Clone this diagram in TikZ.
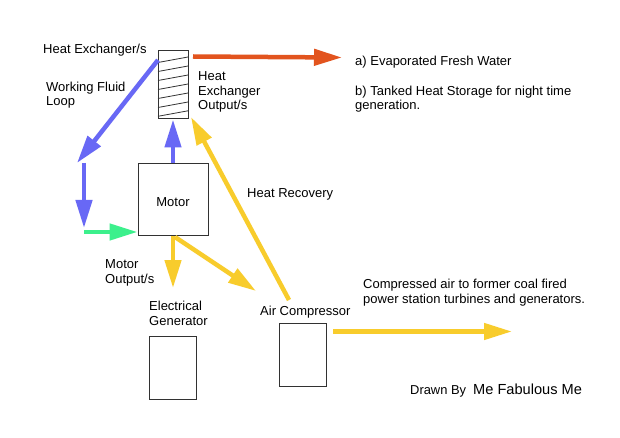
\documentclass[tikz,border=0pt]{standalone}
\usepackage{fontspec}
\setmainfont{Liberation Sans}
\usetikzlibrary{arrows.meta}
\definecolor{redc}{RGB}{226,84,30}
\definecolor{bluec}{RGB}{104,104,245}
\definecolor{greenc}{RGB}{60,240,140}
\definecolor{yelc}{RGB}{248,204,44}
\definecolor{boxc}{RGB}{50,50,50}
\tikzset{
  box/.style={draw=boxc, line width=1pt, inner sep=0pt},
  lbl/.style={inner sep=0pt, anchor=base west, align=left, font=\fontsize{13}{14.6}\selectfont},
  arr/.style={line width=4.5pt, -{Triangle[length=28pt,width=16pt]}},
}
\begin{document}
\begin{tikzpicture}[x=1pt,y=-1pt]
\useasboundingbox (0,0) rectangle (620,438);
\fill[white] (0,0) rectangle (620,438);
% boxes
\node[box, minimum width=30pt, minimum height=68pt] (he) at (173,85) {};
\node[box, minimum width=70pt, minimum height=71pt, font=\fontsize{13}{15}\selectfont] (motor) at (173,199.5) {\smash{\raisebox{-7pt}{Motor}}};
\node[box, minimum width=47pt, minimum height=63pt] (gen) at (173,367.5) {};
\node[box, minimum width=47pt, minimum height=63pt] (comp) at (303,354.5) {};
% hatch in heat exchanger
\foreach \y in {62.5,71.5,80.5,89.5,98.5,107.5,116.3}{
  \draw[boxc, line width=0.8pt] (158,\y) -- (188,\y-5.5);
}
% labels (multi-line: anchor on last line's baseline)
\node[lbl] (lhe) at (43,54) {Heat Exchanger/s};
\node[lbl] (lwf) at (46,106) {Working Fluid\\Loop};
\node[lbl] (lheo) at (198,110) {Heat\\Exchanger\\Output/s};
\node[lbl] (lhr) at (247,197) {Heat Recovery};
\node[lbl] (la) at (355,66) {a) Evaporated Fresh Water};
\node[lbl] (lb) at (355,110) {b) Tanked Heat Storage for night time\\generation.};
\node[lbl] (lmo) at (105,283) {Motor\\Output/s};
\node[lbl] (leg) at (149,325) {Electrical\\Generator};
\node[lbl] (lac) at (260,315) {Air Compressor};
\node[lbl] (lca) at (363,303) {Compressed air to former coal fired\\power station turbines and generators.};
\node[lbl, font=\fontsize{12.9}{15}\selectfont] (ldb) at (410,394) {Drawn By};
\node[lbl, font=\fontsize{14.6}{17}\selectfont] (lme) at (473,394) {Me Fabulous Me};
% coordinates
\coordinate (redS) at (193,56.5);
\coordinate (redE) at (342,57.5);
\coordinate (bS) at (158,60);
\coordinate (bE) at (77,163);
\coordinate (b2S) at (84,163);
\coordinate (b2E) at (84,228);
\coordinate (gS) at (84,232);
\coordinate (yS1) at (173,236);
\coordinate (yE1) at (173,288);
\coordinate (yS2) at (175,237);
\coordinate (yE2) at (256,291);
\coordinate (hrS) at (289,300);
\coordinate (hrE) at (191,117);
\coordinate (caE) at (512,331.5);
% connectors
\draw[arr, redc] (redS) -- (redE);
\draw[arr, bluec] (bS) -- (bE);
\draw[arr, bluec] (b2S) -- (b2E);
\draw[arr, greenc] (gS) -- (gS -| motor.west);
\draw[arr, bluec] (motor.north) -- (he.south);
\draw[arr, yelc] (yS1) -- (yE1);
\draw[arr, yelc] (yS2) -- (yE2);
\draw[arr, yelc] (hrS) -- (hrE);
\draw[arr, yelc] ([xshift=6pt]comp.east |- caE) -- (caE);
\end{tikzpicture}
\end{document}
